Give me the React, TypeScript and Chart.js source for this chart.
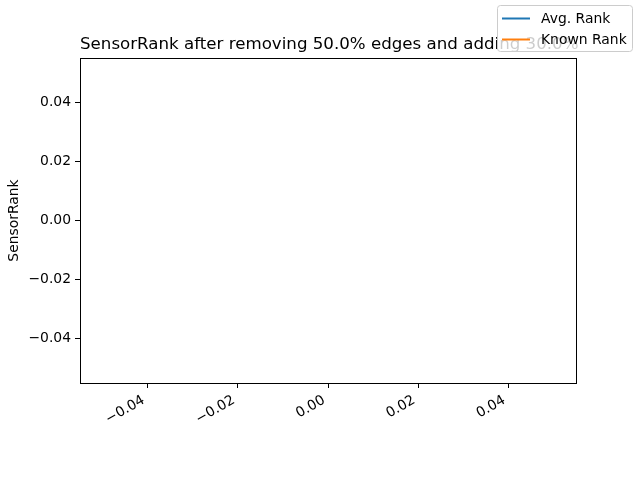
import { useEffect, useRef } from "react";
import { Chart, registerables } from "chart.js";

Chart.register(...registerables);

const TITLE = "SensorRank after removing 50.0% edges and adding 30.0%";
const Y_LABEL = "SensorRank";
const X_VALUES: number[] = [];
const AVG_RANK: number[] = [];
const KNOWN_RANK: number[] = [];
const SERIES_NAMES = ["Avg. Rank", "Known Rank"];
const SERIES_COLORS = ["#1f77b4", "#ff7f0e"];
const AXIS_MIN = -0.055;
const AXIS_MAX = 0.055;
const TICK_VALUES = [-0.04, -0.02, 0, 0.02, 0.04];
const TICK_LABELS = ["\u22120.04", "\u22120.02", "0.00", "0.02", "0.04"];

const FONT = "DejaVu Sans";

const labelFor = (v: number) => {
  const i = TICK_VALUES.findIndex((t) => Math.abs(t - v) < 1e-9);
  return i >= 0 ? TICK_LABELS[i] : "";
};

const decorPlugin = {
  id: "decor",
  afterDraw(chart: any) {
    const ctx = chart.ctx as CanvasRenderingContext2D;
    const a = chart.chartArea;
    ctx.save();
    // frame
    ctx.strokeStyle = "#000";
    ctx.lineWidth = 1;
    ctx.strokeRect(Math.round(a.left) + 0.5, Math.round(a.top) + 0.5, Math.round(a.right - a.left), Math.round(a.bottom - a.top));
    // title
    ctx.fillStyle = "#000";
    ctx.font = `16.67px "${FONT}"`;
    ctx.textAlign = "left";
    ctx.textBaseline = "alphabetic";
    ctx.fillText(TITLE, a.left, a.top - 8.8);
    // legend (figure legend, upper right)
    const x0 = 497.5, y0 = 5.5, w = 135, h = 46;
    ctx.beginPath();
    (ctx as any).roundRect(x0, y0, w, h, 3);
    ctx.fillStyle = "rgba(255,255,255,0.8)";
    ctx.fill();
    ctx.strokeStyle = "#cccccc";
    ctx.lineWidth = 1;
    ctx.stroke();
    ctx.font = `13.9px "${FONT}"`;
    ctx.textBaseline = "middle";
    chart.data.datasets.forEach((ds: any, i: number) => {
      const yy = 18.5 + i * 21;
      ctx.beginPath();
      ctx.moveTo(502, yy);
      ctx.lineTo(530, yy);
      ctx.strokeStyle = ds.borderColor;
      ctx.lineWidth = 2;
      ctx.stroke();
      ctx.fillStyle = "#000";
      ctx.fillText(ds.label, 541, yy + 0.5);
    });
    ctx.restore();
  },
};

export default function App() {
  const ref = useRef<HTMLCanvasElement | null>(null);
  useEffect(() => {
    if (!ref.current) return;
    const tickFont = { family: FONT, size: 13.9 };
    const chart = new Chart(ref.current, {
      type: "line",
      data: {
        datasets: [
          {
            label: SERIES_NAMES[0],
            data: X_VALUES.map((x, i) => ({ x, y: AVG_RANK[i] })),
            borderColor: SERIES_COLORS[0],
            backgroundColor: SERIES_COLORS[0],
            borderWidth: 2,
            pointRadius: 0,
          },
          {
            label: SERIES_NAMES[1],
            data: X_VALUES.map((x, i) => ({ x, y: KNOWN_RANK[i] })),
            borderColor: SERIES_COLORS[1],
            backgroundColor: SERIES_COLORS[1],
            borderWidth: 2,
            pointRadius: 0,
          },
        ],
      },
      options: {
        animation: false,
        responsive: false,
        devicePixelRatio: 1,
        layout: { padding: { top: 58, right: 64, left: 0, bottom: 0 } },
        plugins: { legend: { display: false }, title: { display: false }, tooltip: { enabled: false } },
        scales: {
          x: {
            type: "linear",
            min: AXIS_MIN,
            max: AXIS_MAX,
            afterBuildTicks: (s: any) => {
              s.ticks = TICK_VALUES.map((v) => ({ value: v }));
            },
            afterFit: (s: any) => {
              s.height = 97;
            },
            grid: { display: true, drawOnChartArea: false, drawTicks: true, tickLength: 5, color: "#000", lineWidth: 1 },
            border: { display: false },
            ticks: {
              autoSkip: false,
              minRotation: 30,
              maxRotation: 30,
              padding: 4,
              labelOffset: -4,
              color: "#000",
              font: tickFont,
              callback: (v: any) => labelFor(Number(v)),
            },
          },
          y: {
            type: "linear",
            min: AXIS_MIN,
            max: AXIS_MAX,
            afterBuildTicks: (s: any) => {
              s.ticks = TICK_VALUES.map((v) => ({ value: v }));
            },
            afterFit: (s: any) => {
              s.width = 80;
            },
            grid: { display: true, drawOnChartArea: false, drawTicks: true, tickLength: 5, color: "#000", lineWidth: 1 },
            border: { display: false },
            ticks: {
              padding: 4,
              color: "#000",
              font: tickFont,
              callback: (v: any) => labelFor(Number(v)),
            },
            title: {
              display: true,
              text: Y_LABEL,
              color: "#000",
              font: tickFont,
              padding: { top: 6, bottom: 0 },
            },
          },
        },
      },
      plugins: [decorPlugin],
    } as any);
    return () => chart.destroy();
  }, []);
  return (
    <div style={{ position: "absolute", left: 0, top: 0, width: 640, height: 480 }}>
      <canvas ref={ref} width={640} height={480} style={{ display: "block" }} />
    </div>
  );
}
